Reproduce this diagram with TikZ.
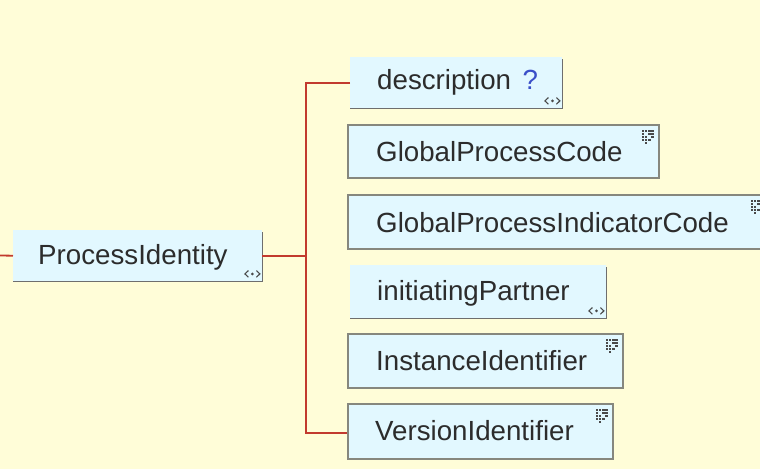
\documentclass[tikz,border=0pt]{standalone}
\usepackage{fontspec}
\setmainfont{Liberation Sans}
\definecolor{bgc}{HTML}{FFFDD8}
\definecolor{boxfill}{HTML}{E2F8FF}
\definecolor{boxline}{HTML}{86877E}
\definecolor{shadowc}{HTML}{6E6E6E}
\definecolor{conred}{HTML}{C23A2E}
\definecolor{txtc}{HTML}{2C2C2C}
\definecolor{qblue}{HTML}{3A4FC8}
\definecolor{iconc}{HTML}{4A4A4A}
\tikzset{
  simplebox/.style={draw=boxline, line width=1.8pt, fill=boxfill, anchor=north west, inner sep=0pt},
  cplxbox/.style={fill=boxfill, anchor=north west, inner sep=0pt},
  shadowline/.style={draw=shadowc, line width=1.8pt},
  conn/.style={draw=conred, line width=1.8pt},
  lbl/.style={anchor=base west, inner sep=0pt, text=txtc, font=\fontsize{27.7}{30}\selectfont},
  iconline/.style={draw=iconc, line width=1.1pt},
  cplxicon/.pic={
    \draw[iconline] (-4,-3.3) -- (-7.5,0) -- (-4,3.3);
    \draw[iconline] (4,-3.3) -- (7.5,0) -- (4,3.3);
    \fill[iconc] (0,0) circle (1.5);
  },
  simpicon/.pic={
    \foreach \cx/\cy in {0/0,1/0,2/0,3/0, 0/1,2/1,3/1, 0/2,1/2,3/2, 0/3,1/3,2/3, 1/4}
      \fill[iconc] (-6.5+\cx*3.3,-7.5+\cy*3.1) rectangle ++(2.4,2.3);
  }
}
\begin{document}
\begin{tikzpicture}[x=1pt,y=-1pt]
\fill[bgc] (0,0) rectangle (760,469);
\useasboundingbox (0,0) rectangle (760,469);
\begin{scope}
\clip (0,0) rectangle (760,469);
% complex boxes
\node[cplxbox, minimum width=249, minimum height=51] (pi) at (13,230) {};
\node[cplxbox, minimum width=212, minimum height=51] (desc) at (350,57) {};
\node[cplxbox, minimum width=256, minimum height=53] (ip) at (350,265) {};
% simple boxes
\node[simplebox, minimum width=311, minimum height=53] (gpc) at (347,124) {};
\node[simplebox, minimum width=420, minimum height=54] (gpic) at (347,194) {};
\node[simplebox, minimum width=275, minimum height=54] (ii) at (347,333) {};
\node[simplebox, minimum width=265, minimum height=55] (vi) at (347,403) {};
% shadows
\foreach \b in {pi,desc,ip}
  \draw[shadowline] ([yshift=-2pt]\b.north east) -- (\b.south east) -- (\b.south west);
% labels
\node[lbl] (pit) at (38,264) {ProcessIdentity};
\node[lbl] (desct) at (377,89) {description};
\node[lbl, text=qblue] (q) at ([xshift=11pt]desct.base east) {?};
\node[lbl] (gpct) at (376,161) {GlobalProcessCode};
\node[lbl] (gpict) at (376,232) {GlobalProcessIndicatorCode};
\node[lbl] (ipt) at (377,300) {initiatingPartner};
\node[lbl] (iit) at (376,370) {InstanceIdentifier};
\node[lbl] (vit) at (375,440) {VersionIdentifier};
% icons
\foreach \b in {pi,desc,ip}
  \pic at ([xshift=-10pt,yshift=7.5pt]\b.south east) {cplxicon};
\pic at (648,137) {simpicon};
\pic at (757,207) {simpicon};
\pic at (612,346) {simpicon};
\pic at (602,416) {simpicon};
% connectors
\coordinate (lstub) at (0,255.5);
\coordinate (tx) at (306,0);
\draw[conn] (lstub) -- (pi.west);
\draw[conn] (pi.east) -- (pi.east -| tx);
\draw[conn] (desc.west) -- (desc.west -| tx) -- ([yshift=-1.5pt]vi.west -| tx) -- ([yshift=-1.5pt]vi.west);
\end{scope}
\end{tikzpicture}
\end{document}
